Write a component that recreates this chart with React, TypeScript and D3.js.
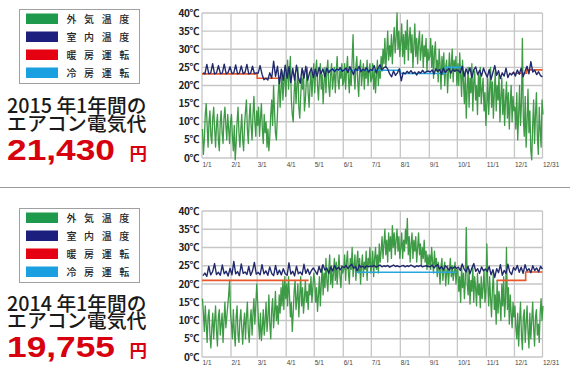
import React from "react";
import * as d3 from "d3";

const monthLabels = ["1/1","2/1","3/1","4/1","5/1","6/1","7/1","8/1","9/1","10/1","11/1","12/1","12/31"];
const monthDays = [31,28,31,30,31,30,31,31,30,31,30,31];
const tempTicks = [0,5,10,15,20,25,30,35,40];
const legendLabels = ["外気温度","室内温度","暖房運転","冷房運転"];

// 2015 outdoor temperature (daily readings per month)
const outdoor2015 = [
  [8,1,5,12,15,9,3,10,13,6,4,11,14,8,3,9,12,5,2,10,13,7,4,11,14,9,5,12,8,4,10],
  [12,6,2,9,-0.5,4,10,14,7,3,8,12,5,2,9,13,16,8,4,11,15,9,5,12,17,10,6,13],
  [9,14,6,11,15,8,4,12,7,10,3,8,2,6,12,16,9,20,13,7,5,11,18,22,14,19,24,16,21,25,17],
  [22,27,19,24,28,16,12,10,18,23,15,20,25,14,11,17,22,19,24,13,16,21,25,18,14,20,24,17,22,26],
  [18,24,27,20,16,22,26,19,23,15,21,25,18,24,27,20,17,23,26,19,22,25,18,24,28,21,19,25,22,26,20],
  [21,26,19,24,28,22,18,25,20,27,34,23,19,25,28,21,17,24,27,20,23,26,19,25,22,27,20,24,26,21],
  [22,26,19,24,18,23,27,20,25,22,28,24,30,26,33,25,29,35,27,31,28,34,26,32,36,29,33,40,30,35,28],
  [32,37,28,34,26,35,30,38,27,33,36,29,34,25,31,37,28,33,26,32,35,27,30,34,25,31,28,33,24,30,27],
  [28,33,25,31,22,29,32,24,27,21,30,26,19,28,23,29,20,25,27,18,24,29,22,26,30,21,27,24,28,20],
  [26,20,29,23,17,27,21,15,24,11,19,25,14,22,18,26,13,21,24,16,20,12,23,17,25,15,19,22,13,18,9],
  [15,22,12,19,25,14,21,11,18,24,13,20,16,23,10,17,22,12,19,9,16,21,11,18,8,15,20,10,17,13],
  [14,8,18,5,12,20,9,15,33,11,6,17,3,10,19,7,13,2,-0.5,9,16,4,12,18,6,1,14,8,3,16,12],
];

// 2015 indoor temperature (readings every ~2 days per month)
const indoor2015 = [
  [23.5,23.2,25.8,23.3,23.4,26,23.2,23.5,25.5,23.3,23.4,25.9,23.2,23.6,25.2],
  [23.3,23.5,25.7,23.2,23.4,25.4,23.3,23.6,25.8,23.2,23.4,25.3,23.3,23.5],
  [23.4,25.5,23.1,21.6,22,21.5,23.5,22,26.7,22.5,25.3,20.5,24.5,21.5,25.6],
  [22,25.2,20.8,24.7,21.5,25.6,22.3,20.6,24.8,22,25.3,21.5,23.5,24.8,22.2],
  [24.5,22.5,25,23.2,24.6,22.4,24.8,23.5,24.2,24.6,23.8,24.5,24.3,24.9,23.9],
  [24.3,24.8,23.6,25.2,24.1,23,24.6,24.2,25.3,23.8,24.5,24.1,24.9,23.7,24.4],
  [24.2,25.5,23.5,24.8,25.7,24.3,24.9,25.2,24.5,23.2,22.4,24,22.8,23.5,24.6],
  [21.3,23.6,23.2,23.9,23.4,24.1,23.3,23.7,22.9,23.8,23.4,24.2,23.5,23.8,24],
  [23.7,24.3,23.2,24.6,23.9,24.4,23.1,24.8,23.6,24.2,24.7,23.4,24.5,23.9,24.3],
  [24.1,23.5,25.3,22.5,24.6,23.2,24.9,22.2,24.4,25.1,23,24.2,22.6,24.8,23.4],
  [22.3,24.4,21.7,23.6,25.5,22.8,24.1,21.9,23.5,22.6,24.8,22.2,23.4,22.9,23.7],
  [22.6,24.3,23.1,24.8,22.4,23.9,25.3,23.2,26.6,23.7,24.2,23,23.8,22.7,22.4],
];

// [from, to, setting]
const heating2015: [string, string, number][] = [
  ["2015-01-01","2015-03-01",23.2],
  ["2015-03-01","2015-03-28",22.0],
  ["2015-11-28","2015-12-14",23.4],
  ["2015-12-14","2015-12-31",24.3],
];
const cooling2015: [string, string, number][] = [
  ["2015-05-12","2015-08-01",24.2],
  ["2015-08-01","2015-09-18",23.3],
  ["2015-09-18","2015-10-08",25.0],
];

// 2014 outdoor temperature
const outdoor2014 = [
  [16,12,7,14,9,4,11,13,6,2.5,8,12,5,10,14,7,3,11,13,6,9,12,4,10,15,8,11,14,17,21,12],
  [9,5,13,7,3,11,14,6,4,10,13,8,3.5,9,12,5,11,15,7,4,10,13,6,12,16,9,14,20],
  [15,9,5,12,4.5,8,13,6,10,15,7,11,17,9,5,13,16,8,12,18,10,14,9,17,12,19,14,21,13,22,16],
  [20,14,22,17,11,15,7,12,18,21,13,16,20,11,17,22,14,19,12,16,21,15,18,13,20,17,22,15,19,23],
  [21,15,19,12.5,17,22,14,20,25,17,23,19,27,21,18,24,28,20,25,19,23,27,21,26,20,24,28,22,19,25,23],
  [24,28,21,26,29,23,20,27,24,30,22,25,28,21,26,29,23,27,20,25,28,22,26,24,29,21,27,25,30,23],
  [25,29,22,27,30,24,28,23,31,26,29,33,27,31,35,28,32,26,34,29,33,27,36,30,34,28,32,35,29,33,27],
  [30,34,27,32,29,35,31,38,28,33,26,31,34,27,32,29,33,26,30,34,28,31,25,30,27,32,26,29,24,28,25],
  [28,24,30,26,23,29,25,27,22,26,24,20,25,27,21,24,26,19.5,23,25,20,24,27,22,25,21,23,26,20,24],
  [24,18,22,15,25,19,23,16,21,35.5,20,17,24,14.5,21,18,25,15,22,19,14,23,17,20,13.5,22,16,19,24,15,18],
  [31,20,14,22,16,11,19,23,13,17,9,21,12,18,15,10,20,14,22,11,16,30,13,19,9,17,12,8,15,11],
  [14,8,5,12,3,10,15,6,2,11,13,4,9,14,7,2.5,12,5,10,15,8,3,11,13,6,9,4,12,16,10,14],
];

const indoor2014 = [
  [22.3,23,22.1,24.8,22.5,23.4,25.6,22.6,23.2,22.4,25.2,22.8,23.5,22.2,24.3],
  [22.5,26.2,22.8,23.4,22.3,25.5,22.9,23.3,22.6,24.8,22.4,23.6,25.9,22.7],
  [23.2,22.5,25.3,22.8,23.6,22.4,24.7,22.9,22.3,25.1,22.6,23.8,22.5,24.2,22.8],
  [22.4,25.8,22.7,23.5,22.2,24.9,22.8,23.3,22.5,25.4,22.9,24.1,22.6,23.7,24.4],
  [23.5,22.6,24.8,23.2,25.3,23.8,24.4,22.9,24.7,23.6,25.1,24,24.6,23.9,24.8],
  [24.5,25.1,24.2,24.9,25.4,24.3,24.8,23.6,25.2,24.6,24.9,24.4,25,24.7,24.9],
  [24.8,25.1,24.6,24.9,25.2,24.7,25,24.8,25.1,24.6,24.9,25.2,24.8,25,24.7],
  [24.9,25.1,24.7,25,24.8,25.2,24.9,24.6,25,24.8,25.1,24.7,24.9,25,24.8],
  [24.7,25.2,24.4,24.9,25.3,24.1,24.8,23.9,25,24.5,23.8,24.6,24.2,24.8,24.3],
  [24.6,23.7,25.5,24.1,23.3,24.9,22.8,24.4,25.6,23.5,24.2,22.9,24.7,23.6,24.1],
  [23.4,24.8,22.5,23.9,21.8,24.2,23.1,25.3,22.4,23.7,22.9,25.4,23.3,22.6,24.5],
  [23.8,25.1,23.2,24.6,22.9,25.3,23.6,24.2,23.1,25,23.7,24.4,23.3,24.8,24.1],
];

const heating2014: [string, string, number][] = [
  ["2014-01-01","2014-04-25",21.0],
  ["2014-11-12","2014-12-13",21.0],
  ["2014-12-13","2014-12-31",23.3],
];
const cooling2014: [string, string, number][] = [
  ["2014-06-15","2014-09-30",23.2],
];

const panels = [
  { year: 2015, cost: "21,430", outdoor: outdoor2015, indoor: indoor2015, heating: heating2015, cooling: cooling2015 },
  { year: 2014, cost: "19,755", outdoor: outdoor2014, indoor: indoor2014, heating: heating2014, cooling: cooling2014 },
];

const layouts = [
  { plotTop: 13, plotBottom: 158, xLabelY: 166.5, legendY: 9, line1: 112.5, line2: 130.5, costY: 160 },
  { plotTop: 211, plotBottom: 357, xLabelY: 365, legendY: 208, line1: 310.5, line2: 327.8, costY: 357 },
];

const COLORS = {
  legend: ["#1f994b", "#1c1f7d", "#e50012", "#1aa0e0"],
  outdoor: "#3d9a45",
  indoor: "#222a6e",
  heating: "#e8582b",
  cooling: "#2aa6df",
  grid: "#c6c6c6",
};

const CJK = "Noto Sans CJK JP";

function monthlyPoints(year: number, data: number[][], days: number[]) {
  const pts: [Date, number][] = [];
  data.forEach((vals, m) => {
    const start = new Date(year, m, 1).getTime();
    const n = vals.length;
    vals.forEach((v, i) => {
      const t = start + ((i + 0.5) * days[m] / n) * 86400000;
      pts.push([new Date(t), v]);
    });
  });
  return pts;
}

function segmentGroups(segs: [string, string, number][]) {
  const parse = d3.timeParse("%Y-%m-%d");
  const groups: [Date, number][][] = [];
  let cur: [Date, number][] | null = null;
  let lastEnd = "";
  for (const [a, b, t] of segs) {
    if (!cur || lastEnd !== a) {
      cur = [];
      groups.push(cur);
    }
    cur.push([parse(a) as Date, t], [parse(b) as Date, t]);
    lastEnd = b;
  }
  return groups;
}

function Panel({ p, L }: { p: typeof panels[0]; L: typeof layouts[0] }) {
  const x = d3.scaleTime()
    .domain([new Date(p.year, 0, 1), new Date(p.year, 11, 31)])
    .range([202, 542.5]);
  const y = d3.scaleLinear().domain([0, 40]).range([L.plotBottom, L.plotTop]);
  const line = d3.line<[Date, number]>().x(d => x(d[0])).y(d => y(d[1]));
  const monthDates = monthLabels.map((_, i) => i < 12 ? new Date(p.year, i, 1) : new Date(p.year, 11, 31));
  const outdoorPts = monthlyPoints(p.year, p.outdoor, monthDays);
  const indoorPts = monthlyPoints(p.year, p.indoor, monthDays);
  const heat = segmentGroups(p.heating);
  const cool = segmentGroups(p.cooling);
  const ly = L.legendY;
  return (
    <g>
      {/* legend */}
      <rect x={19.5} y={ly + 0.5} width={120} height={74} fill="#fff" stroke="#a0a0a0" strokeWidth={1} />
      {legendLabels.map((lab, i) => (
        <g key={lab}>
          <rect x={26} y={ly + 4.5 + i * 18} width={32} height={10.5} fill={COLORS.legend[i]} />
          <text x={66.5} y={ly + 13.5 + i * 18} fontFamily={CJK} fontSize={10} fontWeight={500} letterSpacing={7.6} fill="#222">{lab}</text>
        </g>
      ))}
      {/* headline texts */}
      <text x={7} y={L.line1} fontFamily={CJK} fontSize={19.5} fontWeight={500} fill="#1a1a1a" textLength={139.5} lengthAdjust="spacingAndGlyphs">{`${p.year} 年1年間の`}</text>
      <text x={7} y={L.line2} fontFamily={CJK} fontSize={19.5} fontWeight={500} fill="#1a1a1a" textLength={139.5} lengthAdjust="spacingAndGlyphs">エアコン電気代</text>
      <text x={7} y={L.costY} fontFamily="Liberation Sans" fontSize={30} fontWeight={700} fill="#d7000f" textLength={108} lengthAdjust="spacingAndGlyphs">{p.cost}</text>
      <text x={129.5} y={L.costY - 0.5} fontFamily={CJK} fontSize={17.5} fontWeight={700} fill="#d7000f">円</text>

      {/* grid */}
      {tempTicks.map(t => (
        <line key={"h" + t} x1={202} x2={542.5} y1={y(t)} y2={y(t)} stroke={COLORS.grid} strokeWidth={1.3} />
      ))}
      {monthDates.map((d, i) => (
        <line key={"v" + i} x1={x(d)} x2={x(d)} y1={L.plotTop} y2={L.plotBottom} stroke={COLORS.grid} strokeWidth={1.3} />
      ))}
      {tempTicks.map(t => (
        <text key={"yl" + t} x={199} y={y(t)} dy="0.36em" textAnchor="end" fontFamily={CJK} fontSize={10} fontWeight={700} letterSpacing={-0.4} fill="#222">{`${t}℃`}</text>
      ))}
      {monthLabels.map((lab, i) => (
        <text key={"xl" + i} x={x(monthDates[i]) + 0.5} y={L.xLabelY} fontFamily="Liberation Sans" fontSize={6.5} fill="#444">{lab}</text>
      ))}

      {/* data */}
      <path d={line(outdoorPts) || ""} fill="none" stroke={COLORS.outdoor} strokeWidth={1.3} strokeLinejoin="round" />
      {cool.map((g, i) => (
        <path key={"c" + i} d={line(g) || ""} fill="none" stroke={COLORS.cooling} strokeWidth={1.6} />
      ))}
      {heat.map((g, i) => (
        <path key={"hh" + i} d={line(g) || ""} fill="none" stroke={COLORS.heating} strokeWidth={1.6} />
      ))}
      <path d={line(indoorPts) || ""} fill="none" stroke={COLORS.indoor} strokeWidth={1.4} strokeLinejoin="round" />
    </g>
  );
}

export default function App() {
  return (
    <svg width={570} height={378} viewBox="0 0 570 378" style={{ position: "absolute", left: 0, top: 0, background: "#fff" }}>
      <rect x={0} y={0} width={570} height={378} fill="#fff" />
      <line x1={0} x2={570} y1={187.5} y2={187.5} stroke="#9a9a9a" strokeWidth={1} />
      {panels.map((p, i) => (
        <Panel key={p.year} p={p} L={layouts[i]} />
      ))}
    </svg>
  );
}
